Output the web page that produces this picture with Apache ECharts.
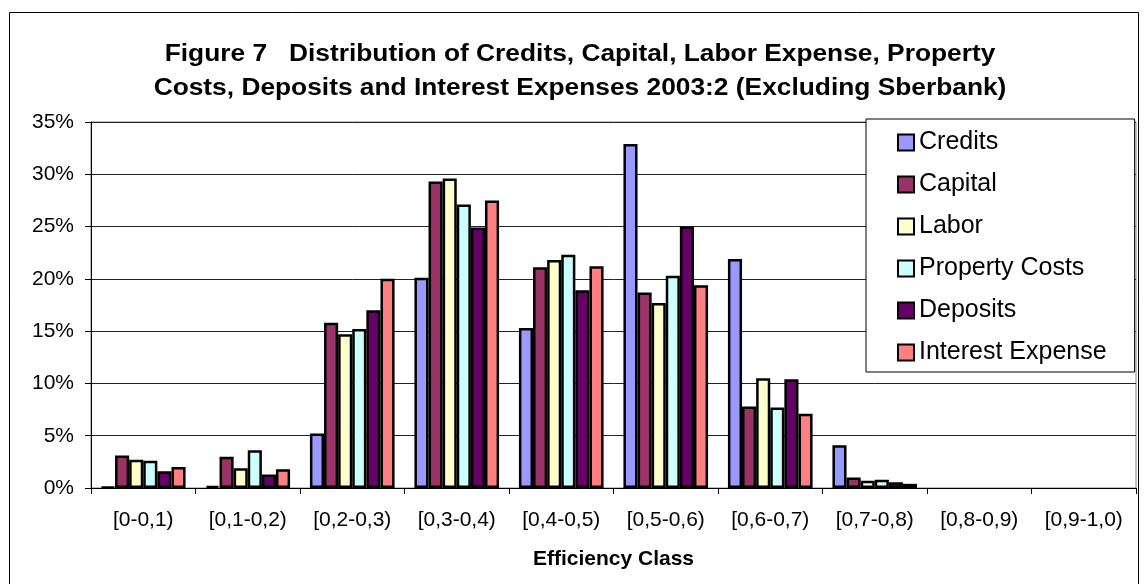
<!DOCTYPE html>
<html>
<head>
<meta charset="utf-8">
<script src="https://cdn.jsdelivr.net/npm/echarts@6/dist/echarts.min.js"></script>
<style>
html,body{margin:0;padding:0;background:#fff;}
#c{width:1145px;height:584px;}
</style>
</head>
<body>
<div id="c"></div>
<script>
const categories = ['[0-0,1)','[0,1-0,2)','[0,2-0,3)','[0,3-0,4)','[0,4-0,5)','[0,5-0,6)','[0,6-0,7)','[0,7-0,8)','[0,8-0,9)','[0,9-1,0)'];
const credits  = [0.1, 0.2, 5.2, 20.1, 15.3, 32.9, 21.9, 4.1, 0, 0];
const capital  = [3.1, 3.0, 15.8, 29.3, 21.1, 18.7, 7.8, 1.0, 0, 0];
const labor    = [2.7, 1.9, 14.7, 29.6, 21.8, 17.7, 10.5, 0.7, 0, 0];
const property = [2.6, 3.6, 15.2, 27.1, 22.3, 20.3, 7.7, 0.8, 0, 0];
const deposits = [1.6, 1.3, 17.0, 24.9, 18.9, 25.0, 10.4, 0.55, 0, 0];
const interest = [2.0, 1.8, 20.0, 27.5, 21.2, 19.4, 7.1, 0.4, 0, 0];
const seriesNames = ['Credits','Capital','Labor','Property Costs','Deposits','Interest Expense'];
const seriesColors = ['#9999FF','#993366','#FFFFCC','#CCFFFF','#660066','#FF8080'];
const seriesData = [credits, capital, labor, property, deposits, interest];
const yTicks = [0,5,10,15,20,25,30,35];
const titleText = 'Figure 7   Distribution of Credits, Capital, Labor Expense, Property\nCosts, Deposits and Interest Expenses 2003:2 (Excluding Sberbank)';

const FONT = '"Liberation Sans", Arial, sans-serif';
const chart = echarts.init(document.getElementById('c'), null, {renderer:'canvas'});
const option = {
  backgroundColor: '#fff',
  animation: false,
  graphic: [{
    type: 'rect', z: -10, silent: true,
    shape: {x: 9.5, y: 12.5, width: 1129, height: 580},
    style: {fill: 'none', stroke: '#000', lineWidth: 1}
  }, {
    type: 'text', silent: true,
    x: 580, y: 72, scaleX: 1.12, originX: 0, originY: 0,
    style: {
      text: titleText, fontFamily: FONT, fontSize: 23.5, fontWeight: 'bold', fill: '#000',
      lineHeight: 34, align: 'center', verticalAlign: 'middle'
    }
  }],
  legend: {
    orient: 'vertical', left: 866, top: 119,
    backgroundColor: '#fff', borderColor: '#000', borderWidth: 1,
    padding: [11, 28, 7, 31],
    itemWidth: 16, itemHeight: 16, itemGap: 17,
    icon: 'rect',
    itemStyle: {borderColor: '#000', borderWidth: 2},
    textStyle: {fontFamily: FONT, fontSize: 25, color: '#000', lineHeight: 24},
    data: seriesNames
  },
  grid: {left: 91, right: 9, top: 122, bottom: 96, show: true, borderColor: '#808080', borderWidth: 1, containLabel: false},
  xAxis: {
    type: 'category', data: categories,
    name: 'Efficiency Class', nameLocation: 'middle', nameGap: 61,
    nameTextStyle: {fontFamily: FONT, fontSize: 21, fontWeight: 'bold', color: '#000'},
    axisLine: {lineStyle: {color: '#000', width: 1}},
    axisTick: {show: true, length: 6, lineStyle: {color: '#000'}},
    axisLabel: {fontFamily: FONT, fontSize: 21, color: '#000', margin: 22, interval: 0}
  },
  yAxis: {
    type: 'value', min: yTicks[0], max: yTicks[yTicks.length-1], interval: 5,
    axisLine: {show: true, lineStyle: {color: '#000', width: 1}},
    axisTick: {show: true, length: 6, lineStyle: {color: '#000'}},
    axisLabel: {fontFamily: FONT, fontSize: 21, color: '#000', margin: 17, formatter: v => v + '%'},
    splitLine: {show: true, lineStyle: {color: '#222', width: 1}}
  },
  series: seriesNames.map((n, i) => ({
    name: n, type: 'bar',
    data: seriesData[i].map(v => v === 0 ? {value: 0, itemStyle: {borderWidth: 0}} : v),
    barGap: '0%', barCategoryGap: '19%',
    itemStyle: {color: seriesColors[i], borderColor: '#000', borderWidth: 2.5}
  }))
};
chart.setOption(option);
</script>
</body>
</html>
